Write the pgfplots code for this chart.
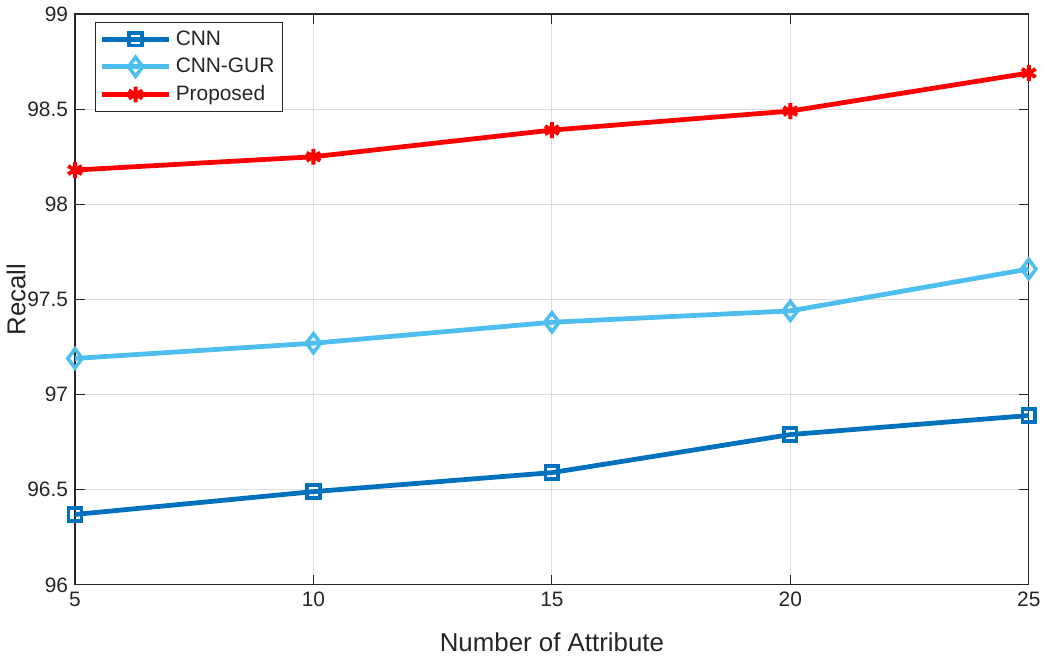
\documentclass[border=0pt]{standalone}
\usepackage{pgfplots}
\pgfplotsset{compat=1.18}
\usepackage{fontspec}
\setmainfont{Liberation Sans}
\definecolor{txt}{HTML}{262626}
\definecolor{cnn}{HTML}{0072BD}
\definecolor{cnngur}{HTML}{4DBEEE}
\definecolor{prop}{HTML}{FF0000}
\begin{document}
\begin{tikzpicture}
\begin{axis}[
  scale only axis,
  width=479.5pt, height=287pt,
  xmin=5, xmax=25, ymin=96, ymax=99,
  xtick={5,10,15,20,25},
  ytick={96,96.5,97,97.5,98,98.5,99},
  yticklabel style={/pgf/number format/fixed},
  /pgf/number format/assume math mode=true,
  tick align=inside,
  major tick length=5pt,
  grid=major,
  grid style={color=black!13, line width=0.5pt},
  axis line style={color=txt, line width=0.6pt},
  every tick/.style={color=txt, line width=0.6pt},
  ticklabel style={font=\fontsize{10.5}{12}\selectfont, color=txt},
  xlabel={Number of Attribute},
  ylabel={Recall},
  label style={font=\fontsize{13}{15}\selectfont, color=txt},
  xlabel style={yshift=-6pt},
  ylabel style={yshift=-6pt},
  legend style={at={(rel axis cs:0,1)}, anchor=north west, xshift=10pt, yshift=-4pt,
    font=\fontsize{10.5}{12}\selectfont, text=txt, draw=txt, line width=0.5pt,
    row sep=1pt, inner sep=2pt},
  legend cell align=left,
  legend image code/.code={%
    \draw[mark repeat=2, mark phase=2, line width=2.4pt]
      plot coordinates {(0pt,0pt) (17pt,0pt) (34pt,0pt)};},
]
\addplot[color=cnn, line width=2.4pt, mark=square, mark size=3.2pt, mark options={line width=1.8pt, solid}]
  coordinates {(5,96.37) (10,96.49) (15,96.59) (20,96.79) (25,96.89)};
\addlegendentry{CNN}
\addplot[color=cnngur, line width=2.4pt, mark=diamond, mark size=4.8pt, mark options={line width=1.8pt, solid}]
  coordinates {(5,97.19) (10,97.27) (15,97.38) (20,97.44) (25,97.66)};
\addlegendentry{CNN-GUR}
\addplot[color=prop, line width=2.4pt, mark=asterisk, mark size=4pt, mark options={line width=2pt, solid}]
  coordinates {(5,98.18) (10,98.25) (15,98.39) (20,98.49) (25,98.69)};
\addlegendentry{Proposed}
\end{axis}
\end{tikzpicture}
\end{document}
